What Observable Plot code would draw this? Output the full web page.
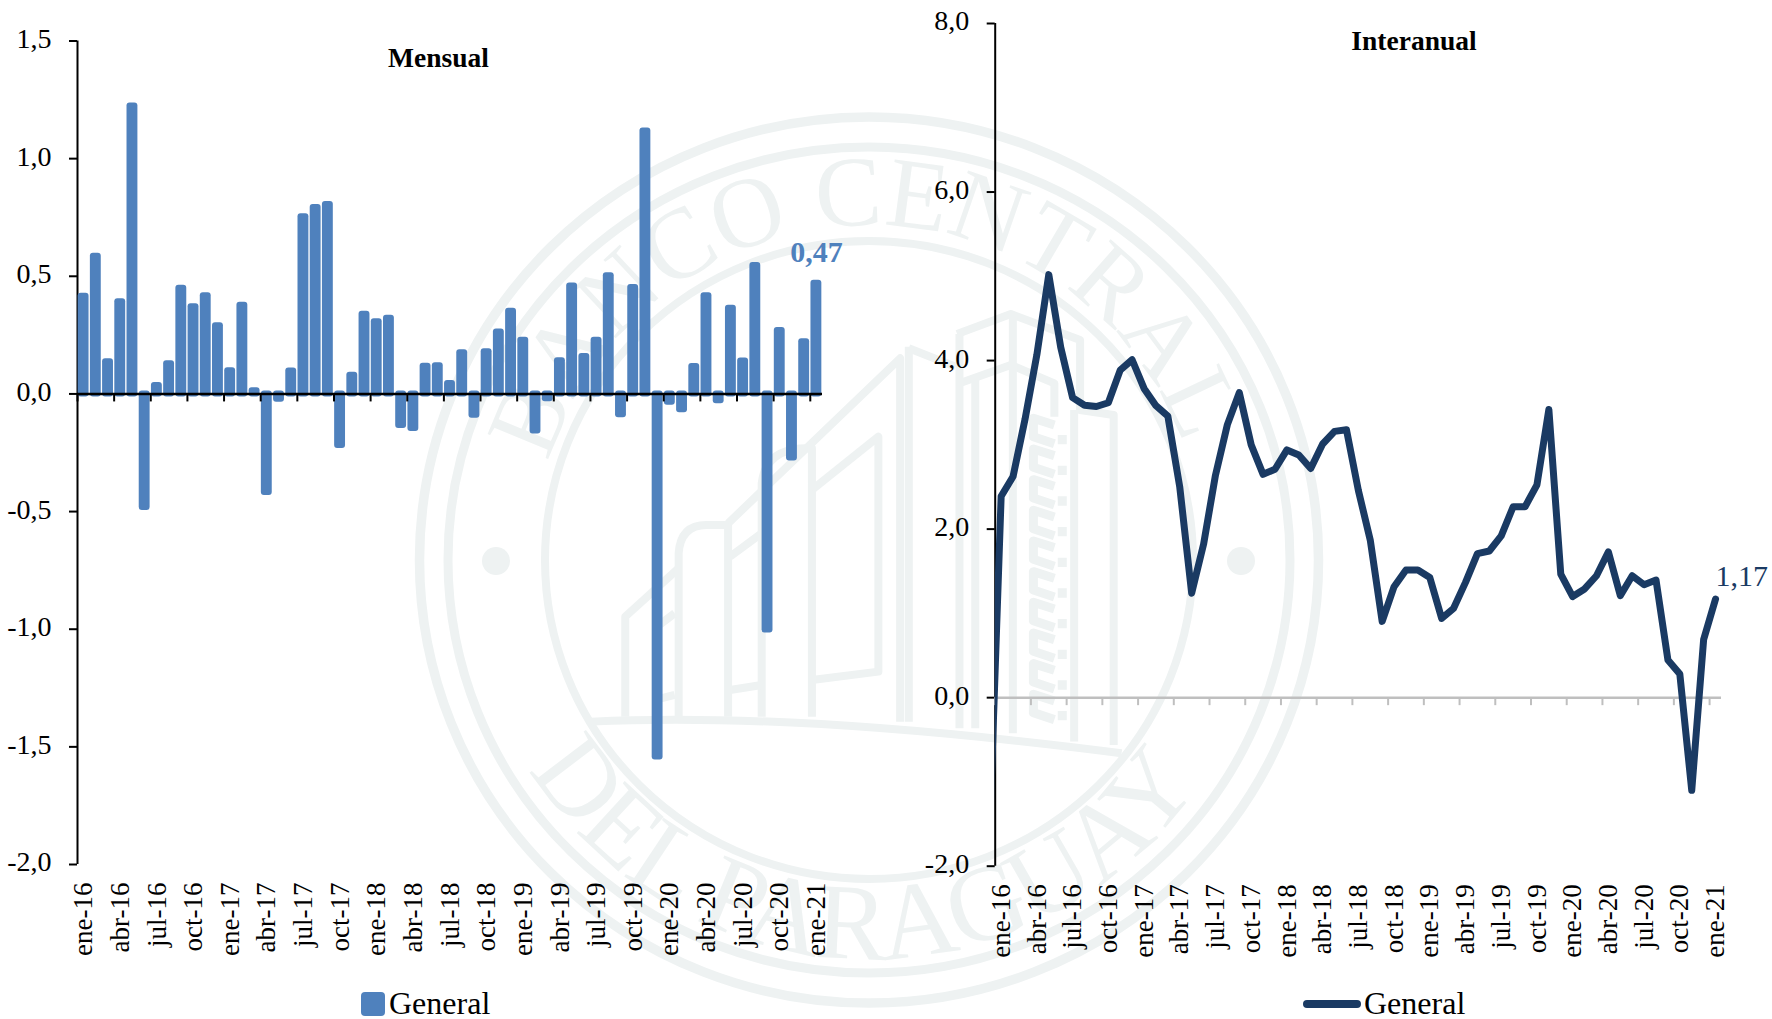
<!DOCTYPE html>
<html lang="es">
<head>
<meta charset="utf-8">
<script src="https://cdn.jsdelivr.net/npm/d3@7"></script>
<script src="https://cdn.jsdelivr.net/npm/@observablehq/plot@0.6"></script>
<style>
html,body{margin:0;padding:0;background:#fff;}
#page{position:relative;width:1772px;height:1019px;overflow:hidden;font-family:"Liberation Serif",serif;color:#000;}
#page svg{position:absolute;top:0;}
.t{position:absolute;white-space:nowrap;line-height:1;}
.titulo{font-weight:bold;font-size:27.5px;transform:translateX(-50%);}
.ley{font-size:32px;line-height:30px;}
</style>
</head>
<body>
<div id="page">
<svg id="sello" width="1772" height="1019" style="left:0">
  <defs>
    <path id="arcoA" d="M 534 560 A 335 335 0 0 1 1204 560"/>
    <path id="arcoB" d="M 470 560 A 399 399 0 0 0 1268 560"/>
  </defs>
  <g fill="none" stroke="#eef2f2">
    <ellipse cx="869" cy="560" rx="449.5" ry="443" stroke-width="9.5"/>
    <ellipse cx="869" cy="560" rx="421" ry="413" stroke-width="9"/>
    <ellipse cx="869" cy="560" rx="324" ry="319" stroke-width="8"/>
  </g>
  <circle cx="496" cy="561" r="14" fill="#eef2f2"/>
  <circle cx="1241" cy="561" r="14" fill="#eef2f2"/>
  <g font-family="Liberation Serif" fill="#eef2f2">
    <text font-size="100" text-anchor="middle"><textPath href="#arcoA" startOffset="49.1%" textLength="835">BANCO CENTRAL</textPath></text>
    <text font-size="108" text-anchor="middle"><textPath href="#arcoB" startOffset="49.3%" textLength="795">DEL PARAGUAY</textPath></text>
  </g>
  <g id="edificio" transform="translate(560,320) scale(0.3955,0.3333)" fill="none" stroke="#eef2f2" stroke-width="8" stroke-linejoin="round">
    <path vector-effect="non-scaling-stroke" d="M80,1205 Q600,1175 1420,1300"/>
    <path vector-effect="non-scaling-stroke" d="M165,1190 V890 L300,745"/>
    <path vector-effect="non-scaling-stroke" d="M300,1190 V700 Q305,615 370,615 H425 V1190"/>
    <path vector-effect="non-scaling-stroke" d="M425,610 L860,115 V1205"/>
    <path vector-effect="non-scaling-stroke" d="M510,1190 V490 Q520,385 625,385 H637 V1190"/>
    <path vector-effect="non-scaling-stroke" d="M637,510 L805,350 V1055 L637,1080"/>
    <path vector-effect="non-scaling-stroke" d="M430,710 L510,640"/>
    <path vector-effect="non-scaling-stroke" d="M430,1110 L510,1095"/>
    <path vector-effect="non-scaling-stroke" d="M240,1140 L290,1125"/>
    <path vector-effect="non-scaling-stroke" d="M290,880 L240,925"/>
    <path vector-effect="non-scaling-stroke" d="M882,80 V1205"/>
    <path vector-effect="non-scaling-stroke" d="M882,85 L1000,140"/>
    <path vector-effect="non-scaling-stroke" d="M1004,42 L1140,-18 L1315,60 V270 L1400,285 V1275"/>
    <path vector-effect="non-scaling-stroke" d="M1010,190 L1140,135 L1250,190 V290"/>
    <path vector-effect="non-scaling-stroke" d="M1010,42 V1225 M1050,170 V1225 M1145,-18 V1240 M1300,270 V1265"/>
  </g>
</svg>
<div class="t titulo" style="left:438.5px;top:44px">Mensual</div>
<div class="t titulo" style="left:1414px;top:27px">Interanual</div>
<div style="position:absolute;left:361px;top:992px;width:24px;height:24px;border-radius:4px;background:#4f81bd"></div>
<div class="t ley" style="left:389px;top:988px">General</div>
<div style="position:absolute;left:1303px;top:1000px;width:58px;height:8px;border-radius:4px;background:#1a3a63"></div>
<div class="t ley" style="left:1364px;top:988px">General</div>
</div>
<script>
const etiquetas = ["ene-16","abr-16","jul-16","oct-16","ene-17","abr-17","jul-17","oct-17","ene-18","abr-18","jul-18","oct-18","ene-19","abr-19","jul-19","oct-19","ene-20","abr-20","jul-20","oct-20","ene-21"];
const mensual = [0.415,0.585,0.137,0.392,1.224,-0.483,0.036,0.128,0.449,0.37,0.417,0.29,0.099,0.377,0.014,-0.419,-0.023,0.097,0.753,0.792,0.805,-0.219,0.079,0.339,0.307,0.322,-0.134,-0.147,0.118,0.12,0.044,0.175,-0.091,0.179,0.263,0.351,0.228,-0.158,-0.021,0.141,0.459,0.159,0.228,0.502,-0.088,0.452,1.117,-1.543,-0.035,-0.067,0.117,0.417,-0.029,0.364,0.14,0.546,-1.003,0.27,-0.272,0.222,0.47];
const interanual = [2.39,2.625,3.30,4.07,5.02,4.16,3.56,3.47,3.455,3.50,3.887,4.01,3.67,3.465,3.34,2.50,1.24,1.82,2.64,3.24,3.62,3.0,2.65,2.71,2.94,2.88,2.72,3.01,3.16,3.18,2.46,1.87,0.905,1.317,1.514,1.514,1.427,0.94,1.06,1.368,1.71,1.74,1.92,2.265,2.265,2.526,3.42,1.467,1.2,1.29,1.447,1.73,1.21,1.447,1.34,1.395,0.447,0.28,-1.10,0.69,1.17];
const anteriorRecortado = -1.7; // dic-15, cortado por el borde del eje en el original
const ticksMensual = [-2,-1.5,-1,-0.5,0,0.5,1,1.5];
const ticksInteranual = [-2,0,2,4,6,8];
const etiquetaMensual = "0,47";
const etiquetaInteranual = "1,17";

// Columna decorativa del edificio en la marca de agua
const NS = "http://www.w3.org/2000/svg";
const edificio = document.getElementById("edificio");
for (let y = 295; y < 1190; y += 92) {
  const p = document.createElementNS(NS, "path");
  p.setAttribute("vector-effect", "non-scaling-stroke");
  p.setAttribute("stroke-width", "9");
  p.setAttribute("d", `M1250,${y + 20} L1197,${y} V${y + 55} L1250,${y + 76} M1270,${y + 50} V${y + 78}`);
  edificio.appendChild(p);
}

const FUENTE = "Liberation Serif";
const AZUL = "#4f81bd", MARINO = "#1a3a63";
const coma = d => d3.format(".1f")(d).replace(".", ",").replace("\u2212","-");
const posMes = etiquetas.map((_, i) => i * 3);
const posMarca = posMes.map(d => d - 0.5);
const etiq = d => etiquetas[d / 3];

function ejes(yTicks) {
  return [
    Plot.ruleX([-0.5], {stroke: "#000", strokeWidth: 2}),
    Plot.ruleY(yTicks, {y: d => d, x1: -0.5, x2: -0.5, insetLeft: -8, stroke: "#000", strokeWidth: 2}),
    Plot.axisY({ticks: yTicks, tickFormat: coma, tickSize: 0, tickPadding: 26, dy: -2, fontSize: 28, label: null}),
    Plot.axisX({anchor: "bottom", ticks: posMes, tickFormat: etiq, tickSize: 0, tickRotate: -90, tickPadding: 18, fontSize: 27, label: null})
  ];
}

const g1 = Plot.plot({
  width: 886, height: 1019,
  marginLeft: 77, marginRight: 64, marginTop: 40.5, marginBottom: 155,
  x: {type: "linear", domain: [-0.5, 60.5]},
  y: {domain: [-2, 1.5]},
  style: {background: "transparent", fontFamily: FUENTE, color: "#000"},
  marks: [
    ...ejes(ticksMensual),
    Plot.rectY(mensual, {x1: (d, i) => i - 0.2, x2: (d, i) => i + 0.2, y1: 0, y2: d => d, fill: AZUL, stroke: AZUL, strokeWidth: 6, strokeLinejoin: "round"}),
    Plot.ruleY([0], {stroke: "#000", strokeWidth: 2.5}),
    Plot.ruleX(posMarca, {x: d => d, y1: 0, y2: 0, insetBottom: -8, stroke: "#000", strokeWidth: 2}),
    Plot.text([etiquetaMensual], {x: 60, y: mensual[60], dy: -31, fill: AZUL, fontSize: 30, fontWeight: "bold", textAnchor: "middle"})
  ]
});
g1.style.left = "0px";

const g2 = Plot.plot({
  width: 886, height: 1019,
  marginLeft: 108.7, marginRight: 51, marginTop: 23, marginBottom: 153.3,
  x: {type: "linear", domain: [-0.5, 60.5]},
  y: {domain: [-2, 8]},
  style: {background: "transparent", fontFamily: FUENTE, color: "#000"},
  marks: [
    ...ejes(ticksInteranual),
    Plot.ruleY([0], {stroke: "#bfbfbf", strokeWidth: 2.5}),
    Plot.ruleX(posMarca, {x: d => d, y1: 0, y2: 0, insetBottom: -8, stroke: "#bfbfbf", strokeWidth: 2}),
    Plot.lineY([anteriorRecortado, ...interanual], {x: (d, i) => i - 1, y: d => d, stroke: MARINO, strokeWidth: 7, strokeLinejoin: "round", strokeLinecap: "round", clip: true}),
    Plot.text([etiquetaInteranual], {x: 60, y: interanual[60], dx: 0, dy: -23, fill: MARINO, fontSize: 30, textAnchor: "start"})
  ]
});
g2.style.left = "886px";

const page = document.getElementById("page");
page.appendChild(g1);
page.appendChild(g2);
</script>
</body>
</html>
